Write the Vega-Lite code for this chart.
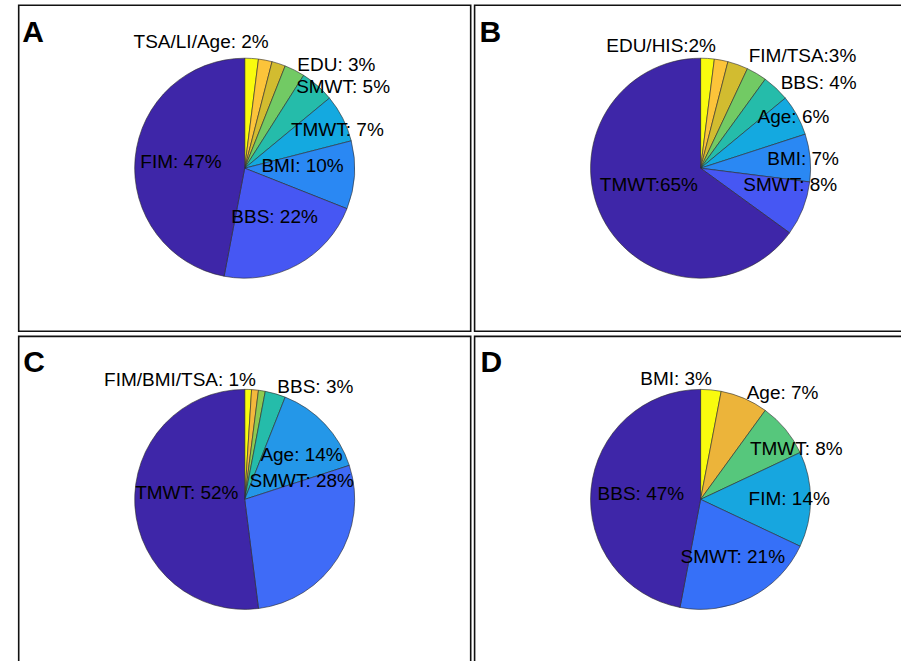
{
  "$schema": "https://vega.github.io/schema/vega-lite/v6.json",
  "padding": {"left": 17.7, "top": 4.2, "right": 0, "bottom": 0},
  "background": "white",
  "config": {
    "view": {"stroke": null},
    "text": {"font": "Liberation Sans", "fontSize": 19, "color": "#000000", "baseline": "middle"},
    "title": {"anchor": "start", "frame": "group", "offset": -42, "dx": 4, "fontSize": 30, "font": "Liberation Sans", "fontWeight": "bold", "color": "#000000", "baseline": "top"}
  },
  "datasets": {
    "A": [
      {"name": "TSA", "value": 2, "order": 1, "group": "TSA/LI/Age: 2%"},
      {"name": "LI", "value": 2, "order": 2, "group": "TSA/LI/Age: 2%"},
      {"name": "Age", "value": 2, "order": 3, "group": "TSA/LI/Age: 2%"},
      {"name": "EDU", "value": 3, "order": 4, "group": "EDU: 3%"},
      {"name": "SMWT", "value": 5, "order": 5, "group": "SMWT: 5%"},
      {"name": "TMWT", "value": 7, "order": 6, "group": "TMWT: 7%"},
      {"name": "BMI", "value": 10, "order": 7, "group": "BMI: 10%"},
      {"name": "BBS", "value": 22, "order": 8, "group": "BBS: 22%"},
      {"name": "FIM", "value": 47, "order": 9, "group": "FIM: 47%"}
    ],
    "B": [
      {"name": "EDU", "value": 2, "order": 1, "group": "EDU/HIS:2%"},
      {"name": "HIS", "value": 2, "order": 2, "group": "EDU/HIS:2%"},
      {"name": "FIM", "value": 3, "order": 3, "group": "FIM/TSA:3%"},
      {"name": "TSA", "value": 3, "order": 4, "group": "FIM/TSA:3%"},
      {"name": "BBS", "value": 4, "order": 5, "group": "BBS: 4%"},
      {"name": "Age", "value": 6, "order": 6, "group": "Age: 6%"},
      {"name": "BMI", "value": 7, "order": 7, "group": "BMI: 7%"},
      {"name": "SMWT", "value": 8, "order": 8, "group": "SMWT: 8%"},
      {"name": "TMWT", "value": 65, "order": 9, "group": "TMWT:65%"}
    ],
    "C": [
      {"name": "FIM", "value": 1, "order": 1, "group": "FIM/BMI/TSA: 1%"},
      {"name": "BMI", "value": 1, "order": 2, "group": "FIM/BMI/TSA: 1%"},
      {"name": "TSA", "value": 1, "order": 3, "group": "FIM/BMI/TSA: 1%"},
      {"name": "BBS", "value": 3, "order": 4, "group": "BBS: 3%"},
      {"name": "Age", "value": 14, "order": 5, "group": "Age: 14%"},
      {"name": "SMWT", "value": 28, "order": 6, "group": "SMWT: 28%"},
      {"name": "TMWT", "value": 52, "order": 7, "group": "TMWT: 52%"}
    ],
    "D": [
      {"name": "BMI", "value": 3, "order": 1, "group": "BMI: 3%"},
      {"name": "Age", "value": 7, "order": 2, "group": "Age: 7%"},
      {"name": "TMWT", "value": 8, "order": 3, "group": "TMWT: 8%"},
      {"name": "FIM", "value": 14, "order": 4, "group": "FIM: 14%"},
      {"name": "SMWT", "value": 21, "order": 5, "group": "SMWT: 21%"},
      {"name": "BBS", "value": 47, "order": 6, "group": "BBS: 47%"}
    ]
  },
  "columns": 2,
  "spacing": {"row": 3.2, "column": 1.9},
  "resolve": {"scale": {"color": "independent", "theta": "independent"}},
  "concat": [
    {
      "width": 452, "height": 326,
      "title": {"text": "A", "dx": 3.5, "offset": -43.5},
      "data": {"name": "A"},
      "layer": [
        {
          "transform": [{"aggregate": [{"op": "count", "as": "n"}]}],
          "mark": {"type": "rect", "filled": false, "color": "#111111", "strokeWidth": 1.6},
          "encoding": {}
        },
        {
          "transform": [{"stack": "value", "groupby": [], "sort": [{"field": "order"}], "as": ["s0", "s1"]}],
          "mark": {"type": "arc", "outerRadius": 110, "stroke": "#2a2a2a", "strokeWidth": 0.6},
          "encoding": {
            "theta": {"field": "s0", "type": "quantitative", "scale": {"domain": [0, 100]}},
            "theta2": {"field": "s1"},
            "color": {"field": "name", "type": "nominal", "legend": null,
              "scale": {"domain": ["TSA", "LI", "Age", "EDU", "SMWT", "TMWT", "BMI", "BBS", "FIM"],
                "range": ["#F9FB0E", "#FCC43A", "#D2BC30", "#72CA64", "#25BCAA", "#14A9E0", "#2A88F3", "#4657F3", "#3E26A8"]}}
          }
        },
        {
          "transform": [
            {"aggregate": [{"op": "sum", "field": "value", "as": "gv"}, {"op": "min", "field": "order", "as": "go"}], "groupby": ["group"]},
            {"stack": "gv", "groupby": [], "sort": [{"field": "go"}], "as": ["g0", "g1"]},
            {"calculate": "(datum.g0+datum.g1)/2", "as": "gm"}
          ],
          "layer": [
            {"transform": [{"filter": {"field": "group", "equal": "TSA/LI/Age: 2%"}}],
             "mark": {"type": "text", "align": "right", "radius": 128},
             "encoding": {"theta": {"field": "gm", "type": "quantitative", "scale": {"domain": [0, 100]}}, "text": {"field": "group"}}},
            {"transform": [{"filter": {"field": "group", "equal": "EDU: 3%"}}],
             "mark": {"type": "text", "align": "left", "radius": 116},
             "encoding": {"theta": {"field": "gm", "type": "quantitative", "scale": {"domain": [0, 100]}}, "text": {"field": "group"}}},
            {"transform": [{"filter": {"field": "group", "equal": "SMWT: 5%"}}],
             "mark": {"type": "text", "align": "left", "radius": 96},
             "encoding": {"theta": {"field": "g0", "type": "quantitative", "scale": {"domain": [0, 100]}}, "text": {"field": "group"}}},
            {"transform": [{"filter": {"field": "group", "equal": "TMWT: 7%"}}],
             "mark": {"type": "text", "align": "center", "baseline": "top", "radius": 104},
             "encoding": {"theta": {"field": "gm", "type": "quantitative", "scale": {"domain": [0, 100]}}, "text": {"field": "group"}}},
            {"transform": [{"filter": {"field": "group", "equal": "BMI: 10%"}}],
             "mark": {"type": "text", "align": "center", "baseline": "alphabetic", "radius": 58},
             "encoding": {"theta": {"field": "gm", "type": "quantitative", "scale": {"domain": [0, 100]}}, "text": {"field": "group"}}},
            {"transform": [{"filter": {"field": "group", "equal": "BBS: 22%"}}],
             "mark": {"type": "text", "align": "center", "baseline": "alphabetic", "radius": 62},
             "encoding": {"theta": {"field": "gm", "type": "quantitative", "scale": {"domain": [0, 100]}}, "text": {"field": "group"}}},
            {"transform": [{"filter": {"field": "group", "equal": "FIM: 47%"}}],
             "mark": {"type": "text", "align": "center", "radius": 64},
             "encoding": {"theta": {"field": "gm", "type": "quantitative", "scale": {"domain": [0, 100]}}, "text": {"field": "group"}}}
          ]
        }
      ]
    },
    {
      "width": 452, "height": 326,
      "title": {"text": "B", "dx": 5, "offset": -43.5},
      "data": {"name": "B"},
      "layer": [
        {
          "transform": [{"aggregate": [{"op": "count", "as": "n"}]}],
          "mark": {"type": "rect", "filled": false, "color": "#111111", "strokeWidth": 1.6},
          "encoding": {}
        },
        {
          "transform": [{"stack": "value", "groupby": [], "sort": [{"field": "order"}], "as": ["s0", "s1"]}],
          "mark": {"type": "arc", "outerRadius": 110, "stroke": "#2a2a2a", "strokeWidth": 0.6},
          "encoding": {
            "theta": {"field": "s0", "type": "quantitative", "scale": {"domain": [0, 100]}},
            "theta2": {"field": "s1"},
            "color": {"field": "name", "type": "nominal", "legend": null,
              "scale": {"domain": ["EDU", "HIS", "FIM", "TSA", "BBS", "Age", "BMI", "SMWT", "TMWT"],
                "range": ["#F9FB0E", "#FCC43A", "#D2BC30", "#72CA64", "#25BCAA", "#14A9E0", "#2A88F3", "#4657F3", "#3E26A8"]}}
          }
        },
        {
          "transform": [
            {"aggregate": [{"op": "sum", "field": "value", "as": "gv"}, {"op": "min", "field": "order", "as": "go"}], "groupby": ["group"]},
            {"stack": "gv", "groupby": [], "sort": [{"field": "go"}], "as": ["g0", "g1"]},
            {"calculate": "(datum.g0+datum.g1)/2", "as": "gm"}
          ],
          "layer": [
            {"transform": [{"filter": {"field": "group", "equal": "EDU/HIS:2%"}}],
             "mark": {"type": "text", "align": "right", "radius": 123},
             "encoding": {"theta": {"field": "gm", "type": "quantitative", "scale": {"domain": [0, 100]}}, "text": {"field": "group"}}},
            {"transform": [{"filter": {"field": "group", "equal": "FIM/TSA:3%"}}],
             "mark": {"type": "text", "align": "left", "baseline": "bottom", "radius": 113},
             "encoding": {"theta": {"field": "gm", "type": "quantitative", "scale": {"domain": [0, 100]}}, "text": {"field": "group"}}},
            {"transform": [{"filter": {"field": "group", "equal": "BBS: 4%"}}],
             "mark": {"type": "text", "align": "left", "radius": 117},
             "encoding": {"theta": {"field": "gm", "type": "quantitative", "scale": {"domain": [0, 100]}}, "text": {"field": "group"}}},
            {"transform": [{"filter": {"field": "group", "equal": "Age: 6%"}}],
             "mark": {"type": "text", "align": "center", "radius": 106},
             "encoding": {"theta": {"field": "gm", "type": "quantitative", "scale": {"domain": [0, 100]}}, "text": {"field": "group"}}},
            {"transform": [{"filter": {"field": "group", "equal": "BMI: 7%"}}],
             "mark": {"type": "text", "align": "center", "radius": 103},
             "encoding": {"theta": {"field": "gm", "type": "quantitative", "scale": {"domain": [0, 100]}}, "text": {"field": "group"}}},
            {"transform": [{"filter": {"field": "group", "equal": "SMWT: 8%"}}],
             "mark": {"type": "text", "align": "left", "radius": 46},
             "encoding": {"theta": {"field": "gm", "type": "quantitative", "scale": {"domain": [0, 100]}}, "text": {"field": "group"}}},
            {"transform": [{"filter": {"field": "group", "equal": "TMWT:65%"}}],
             "mark": {"type": "text", "align": "center", "baseline": "bottom", "radius": 58},
             "encoding": {"theta": {"field": "gm", "type": "quantitative", "scale": {"domain": [0, 100]}}, "text": {"field": "group"}}}
          ]
        }
      ]
    },
    {
      "width": 452, "height": 326,
      "title": {"text": "C", "dx": 4.5, "offset": -42},
      "data": {"name": "C"},
      "layer": [
        {
          "transform": [{"aggregate": [{"op": "count", "as": "n"}]}],
          "mark": {"type": "rect", "filled": false, "color": "#111111", "strokeWidth": 1.6},
          "encoding": {}
        },
        {
          "transform": [{"stack": "value", "groupby": [], "sort": [{"field": "order"}], "as": ["s0", "s1"]}],
          "mark": {"type": "arc", "outerRadius": 110, "stroke": "#2a2a2a", "strokeWidth": 0.6},
          "encoding": {
            "theta": {"field": "s0", "type": "quantitative", "scale": {"domain": [0, 100]}},
            "theta2": {"field": "s1"},
            "color": {"field": "name", "type": "nominal", "legend": null,
              "scale": {"domain": ["FIM", "BMI", "TSA", "BBS", "Age", "SMWT", "TMWT"],
                "range": ["#F9FB0E", "#F4B93C", "#8ECA50", "#25BCAA", "#2497E8", "#3F6BF7", "#3E26A8"]}}
          }
        },
        {
          "transform": [
            {"aggregate": [{"op": "sum", "field": "value", "as": "gv"}, {"op": "min", "field": "order", "as": "go"}], "groupby": ["group"]},
            {"stack": "gv", "groupby": [], "sort": [{"field": "go"}], "as": ["g0", "g1"]},
            {"calculate": "(datum.g0+datum.g1)/2", "as": "gm"}
          ],
          "layer": [
            {"transform": [{"filter": {"field": "group", "equal": "FIM/BMI/TSA: 1%"}}],
             "mark": {"type": "text", "align": "right", "radius": 120},
             "encoding": {"theta": {"field": "gm", "type": "quantitative", "scale": {"domain": [0, 100]}}, "text": {"field": "group"}}},
            {"transform": [{"filter": {"field": "group", "equal": "BBS: 3%"}}],
             "mark": {"type": "text", "align": "left", "radius": 117},
             "encoding": {"theta": {"field": "gm", "type": "quantitative", "scale": {"domain": [0, 100]}}, "text": {"field": "group"}}},
            {"transform": [{"filter": {"field": "group", "equal": "Age: 14%"}}],
             "mark": {"type": "text", "align": "center", "baseline": "top", "radius": 78},
             "encoding": {"theta": {"field": "gm", "type": "quantitative", "scale": {"domain": [0, 100]}}, "text": {"field": "group"}}},
            {"transform": [{"filter": {"field": "group", "equal": "SMWT: 28%"}}],
             "mark": {"type": "text", "align": "center", "radius": 60},
             "encoding": {"theta": {"field": "g0", "type": "quantitative", "scale": {"domain": [0, 100]}}, "text": {"field": "group"}}},
            {"transform": [{"filter": {"field": "group", "equal": "TMWT: 52%"}}],
             "mark": {"type": "text", "align": "center", "baseline": "bottom", "radius": 58},
             "encoding": {"theta": {"field": "gm", "type": "quantitative", "scale": {"domain": [0, 100]}}, "text": {"field": "group"}}}
          ]
        }
      ]
    },
    {
      "width": 452, "height": 326,
      "title": {"text": "D", "dx": 6, "offset": -42},
      "data": {"name": "D"},
      "layer": [
        {
          "transform": [{"aggregate": [{"op": "count", "as": "n"}]}],
          "mark": {"type": "rect", "filled": false, "color": "#111111", "strokeWidth": 1.6},
          "encoding": {}
        },
        {
          "transform": [{"stack": "value", "groupby": [], "sort": [{"field": "order"}], "as": ["s0", "s1"]}],
          "mark": {"type": "arc", "outerRadius": 110, "stroke": "#2a2a2a", "strokeWidth": 0.6},
          "encoding": {
            "theta": {"field": "s0", "type": "quantitative", "scale": {"domain": [0, 100]}},
            "theta2": {"field": "s1"},
            "color": {"field": "name", "type": "nominal", "legend": null,
              "scale": {"domain": ["BMI", "Age", "TMWT", "FIM", "SMWT", "BBS"],
                "range": ["#F9FB0E", "#ECB43A", "#56C77C", "#17A6DF", "#3670F8", "#3E26A8"]}}
          }
        },
        {
          "transform": [
            {"aggregate": [{"op": "sum", "field": "value", "as": "gv"}, {"op": "min", "field": "order", "as": "go"}], "groupby": ["group"]},
            {"stack": "gv", "groupby": [], "sort": [{"field": "go"}], "as": ["g0", "g1"]},
            {"calculate": "(datum.g0+datum.g1)/2", "as": "gm"}
          ],
          "layer": [
            {"transform": [{"filter": {"field": "group", "equal": "BMI: 3%"}}],
             "mark": {"type": "text", "align": "right", "radius": 121},
             "encoding": {"theta": {"field": "gm", "type": "quantitative", "scale": {"domain": [0, 100]}}, "text": {"field": "group"}}},
            {"transform": [{"filter": {"field": "group", "equal": "Age: 7%"}}],
             "mark": {"type": "text", "align": "left", "radius": 116},
             "encoding": {"theta": {"field": "gm", "type": "quantitative", "scale": {"domain": [0, 100]}}, "text": {"field": "group"}}},
            {"transform": [{"filter": {"field": "group", "equal": "TMWT: 8%"}}],
             "mark": {"type": "text", "align": "left", "baseline": "bottom", "radius": 64},
             "encoding": {"theta": {"field": "gm", "type": "quantitative", "scale": {"domain": [0, 100]}}, "text": {"field": "group"}}},
            {"transform": [{"filter": {"field": "group", "equal": "FIM: 14%"}}],
             "mark": {"type": "text", "align": "left", "radius": 48},
             "encoding": {"theta": {"field": "gm", "type": "quantitative", "scale": {"domain": [0, 100]}}, "text": {"field": "group"}}},
            {"transform": [{"filter": {"field": "group", "equal": "SMWT: 21%"}}],
             "mark": {"type": "text", "align": "center", "baseline": "alphabetic", "radius": 71},
             "encoding": {"theta": {"field": "gm", "type": "quantitative", "scale": {"domain": [0, 100]}}, "text": {"field": "group"}}},
            {"transform": [{"filter": {"field": "group", "equal": "BBS: 47%"}}],
             "mark": {"type": "text", "align": "center", "radius": 60},
             "encoding": {"theta": {"field": "gm", "type": "quantitative", "scale": {"domain": [0, 100]}}, "text": {"field": "group"}}}
          ]
        }
      ]
    }
  ]
}
